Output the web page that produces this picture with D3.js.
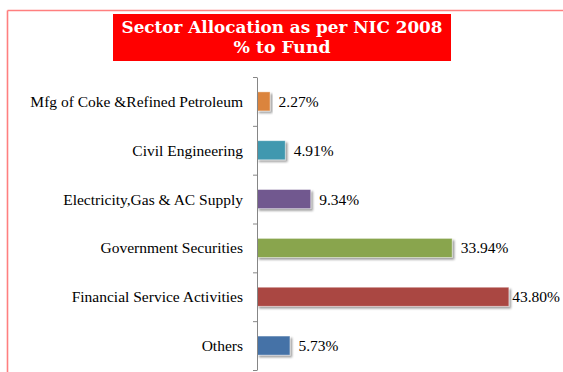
<!DOCTYPE html>
<html>
<head>
<meta charset="utf-8">
<script src="https://cdn.jsdelivr.net/npm/d3@7"></script>
<style>
  html, body { margin: 0; padding: 0; background: #fff; }
  svg { display: block; }
</style>
</head>
<body>
<svg id="chart" width="563" height="372"></svg>
<script>
// Sector allocation data (% of fund), top to bottom
const categories = [
  "Mfg of Coke &Refined Petroleum",
  "Civil Engineering",
  "Electricity,Gas & AC Supply",
  "Government Securities",
  "Financial Service Activities",
  "Others"
];
const values = [2.27, 4.91, 9.34, 33.94, 43.80, 5.73];
const valueLabels = ["2.27%", "4.91%", "9.34%", "33.94%", "43.80%", "5.73%"];
const colors = ["#DB843D", "#4198AF", "#71588F", "#89A54E", "#AA4643", "#4572A7"];
const titleLines = ["Sector Allocation as per NIC 2008", "% to Fund"];

const svg = d3.select("#chart");
const W = 563, H = 372;

// Frame lines along the top and left edge
svg.append("line").attr("x1", 7.5).attr("x2", W).attr("y1", 10.5).attr("y2", 10.5)
  .attr("stroke", "#ff7f7f").attr("stroke-width", 1.6);
svg.append("line").attr("x1", 7.5).attr("x2", 7.5).attr("y1", 10.5).attr("y2", H)
  .attr("stroke", "#ff7f7f").attr("stroke-width", 1.6);

// Title banner
const banner = svg.append("g");
banner.append("rect").attr("x", 113).attr("y", 14).attr("width", 338).attr("height", 47)
  .attr("fill", "#ff0000");
const titleFit = [321, 97];
titleLines.forEach((t, i) => {
  banner.append("text")
    .attr("x", 282).attr("y", 33 + i * 20)
    .attr("text-anchor", "middle")
    .attr("font-family", "'DejaVu Serif', serif")
    .attr("font-weight", "bold")
    .attr("font-size", 16)
    .attr("fill", "#fff")
    .attr("textLength", titleFit[i])
    .attr("lengthAdjust", "spacingAndGlyphs")
    .text(t);
});

// Plot geometry
const plotX0 = 257, plotTop = 77, plotBottom = 370;
const x = d3.scaleLinear().domain([0, 50]).range([plotX0, plotX0 + 287.5]);
const y = d3.scaleBand().domain(categories).range([plotTop, plotBottom]).paddingInner(0.61).paddingOuter(0.305);
const bounds = d3.scaleLinear().domain([0, categories.length]).range([plotTop, plotBottom]);

// Soft shadow under bars
const defs = svg.append("defs");
const f = defs.append("filter").attr("id", "shadow").attr("x", "-10%").attr("y", "-30%")
  .attr("width", "130%").attr("height", "180%");
f.append("feGaussianBlur").attr("in", "SourceAlpha").attr("stdDeviation", 1.2).attr("result", "b");
f.append("feOffset").attr("in", "b").attr("dx", 1.5).attr("dy", 2).attr("result", "o");
f.append("feComponentTransfer").attr("in", "o").attr("result", "s")
  .append("feFuncA").attr("type", "linear").attr("slope", 0.4);
const m = f.append("feMerge");
m.append("feMergeNode").attr("in", "s");
m.append("feMergeNode").attr("in", "SourceGraphic");

// Bars
svg.append("g").selectAll("rect").data(values).join("rect")
  .attr("x", x(0))
  .attr("y", (d, i) => y(categories[i]))
  .attr("width", d => x(d) - x(0))
  .attr("height", y.bandwidth())
  .attr("fill", (d, i) => colors[i])
  .attr("stroke", "#ffffff")
  .attr("stroke-opacity", 0.5)
  .attr("stroke-width", 0.8)
  .attr("filter", "url(#shadow)");

// Category axis with ticks on band boundaries
const axis = d3.axisLeft(bounds).tickValues(d3.range(categories.length + 1))
  .tickFormat("").tickSize(4).tickSizeOuter(0);
const ag = svg.append("g").attr("transform", `translate(${plotX0},0)`).call(axis);
ag.selectAll("path, line").attr("stroke", "#868686").attr("stroke-width", 1);

// Category labels
svg.append("g").selectAll("text").data(categories).join("text")
  .attr("x", 243)
  .attr("y", d => y(d) + y.bandwidth() / 2)
  .attr("dy", "0.35em")
  .attr("text-anchor", "end")
  .attr("font-family", "'Liberation Serif', 'Times New Roman', serif")
  .attr("font-size", 15.5)
  .attr("fill", "#000")
  .text(d => d);

// Value labels, kept inside the right edge
const vl = svg.append("g").selectAll("text").data(values).join("text")
  .attr("y", (d, i) => y(categories[i]) + y.bandwidth() / 2)
  .attr("dy", "0.35em")
  .attr("font-family", "'Liberation Serif', 'Times New Roman', serif")
  .attr("font-size", 15.5)
  .attr("fill", "#000")
  .text((d, i) => valueLabels[i]);
vl.attr("x", function(d) {
  const w = this.getComputedTextLength();
  return Math.min(x(d) + 8.5, 560 - w);
});
</script>
</body>
</html>
